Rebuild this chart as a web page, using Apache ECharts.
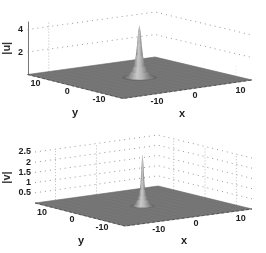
<!DOCTYPE html>
<html><head><meta charset="utf-8">
<style>html,body{margin:0;padding:0;background:#fff}#main{width:266px;height:253px;filter:blur(0.45px)}</style>
<script src="https://cdn.jsdelivr.net/npm/echarts@6/dist/echarts.min.js"></script>
</head><body><div id="main"></div>
<script>
// values
const planeTicks = [-10, 0, 10];
const uTicks = [2, 4];
const vTicks = [0.5, 1, 1.5, 2, 2.5];
const uProfileHeight = [0, 0.2, 0.5, 1, 2, 3, 4, 4.6];
const uProfileRadius = [2.2, 2.0, 1.5, 1.05, 0.65, 0.42, 0.24, 0.05];
const vProfileHeight = [0, 0.1, 0.3, 0.5, 0.8, 1.2, 1.8, 2.5];
const vProfileRadius = [1.7, 1.4, 0.95, 0.7, 0.5, 0.36, 0.24, 0.05];

// layout
const EXT = 15;
const panels = [
  {name:'|u|', ticks:uTicks, zh:uProfileHeight, zr:uProfileRadius, zMax:4.67, zTop:22, axisLine:true, nameGap:16,
   front:[123,98.5], right:[252,80], left:[27.5,74.5], back:[155,57], skirt:3.3,
   vx:[[-10,4.5,'#bdbdbd']], vy:[[-10,1,'#e2e2e2'],[0,0.6,'#eeeeee']],
   yLab:[-8,5.5], xLab:[[12.5,6.5],[7.5,6],[10,7]], yT:[75,113], xT:[182,114]},
  {name:'|v|', ticks:vTicks, zh:vProfileHeight, zr:vProfileRadius, zMax:2.5, zTop:152, axisLine:false, nameGap:24,
   front:[125,226], right:[252,209], left:[35,203], back:[158,186], skirt:2.4,
   vx:[[-10,2.5,'#bdbdbd'],[0,2.5,'#bdbdbd']], vy:[[10,2.5,'#bdbdbd'],[0,2.5,'#bdbdbd'],[-10,2.5,'#bdbdbd']],
   yLab:[-8,5.5], xLab:[[12.5,6.5],[7.5,6],[10,7]], yT:[81,241], xT:[184,241]}
];
const textFont = 'bold 9px "Liberation Sans", Arial, sans-serif';

function makeItem(p){
  const zScale = (p.left[1]-p.zTop)/p.zMax;
  return function(params, api){
    const P = (x,y,z)=>{
      const u=(x+EXT)/(2*EXT), v=(y+EXT)/(2*EXT);
      const sx=(1-u)*(1-v)*p.front[0]+u*(1-v)*p.right[0]+(1-u)*v*p.left[0]+u*v*p.back[0];
      const sy=(1-u)*(1-v)*p.front[1]+u*(1-v)*p.right[1]+(1-u)*v*p.left[1]+u*v*p.back[1];
      return api.coord([sx, sy-(z||0)*zScale]);
    };
    const kids=[];
    const line=(pts,color,dash,w)=>kids.push({type:'polyline',silent:true,shape:{points:pts},
      style:{stroke:color,lineWidth:w||1,fill:null,lineDash:dash||null}});
    const dots=[1,4];
    // walls: horizontal dotted lines
    p.ticks.forEach(t=>{
      line([P(-EXT,EXT,t),P(EXT,EXT,t),P(EXT,-EXT,t)],'#999999',dots);
    });
    p.vx.forEach(a=>line([P(a[0],EXT,0),P(a[0],EXT,a[1])],a[2],[1,2]));
    p.vy.forEach(a=>line([P(EXT,a[0],0),P(EXT,a[0],a[1])],a[2],[1,2]));
    // floor
    kids.push({type:'polygon',shape:{points:[P(-EXT,-EXT),P(EXT,-EXT),P(EXT,EXT),P(-EXT,EXT)]},
      style:{fill:'#757575',stroke:'#666',lineWidth:0.6}});
    for(let g=-EXT;g<=EXT;g+=2){
      line([P(g,-EXT),P(g,EXT)],'rgba(0,0,0,0.025)');
      line([P(-EXT,g),P(EXT,g)],'rgba(255,255,255,0.02)');
    }
    line([P(-EXT,EXT),P(-EXT,-EXT),P(EXT,-EXT)],'#4a4a4a',[3,2],0.8);
    // peak
    const ring=(r,z)=>{const a=[];for(let i=0;i<28;i++){const t=i/28*2*Math.PI;a.push(P(r*Math.cos(t),r*Math.sin(t),z));}return a;};
    kids.push({type:'polygon',shape:{points:ring(p.skirt,0)},style:{fill:'#5c5c5c',opacity:0.5}});
    kids.push({type:'polygon',shape:{points:ring(p.skirt*0.8,0)},style:{fill:'#808080'}});
    const grad={type:'linear',x:0,y:0,x2:1,y2:0,colorStops:[
      {offset:0,color:'#7f7f7f'},{offset:0.38,color:'#c8c8c8'},{offset:0.62,color:'#b4b4b4'},{offset:1,color:'#777777'}]};
    for(let i=0;i<p.zh.length-1;i++){
      const lo=ring(p.zr[i],p.zh[i]), hi=ring(p.zr[i+1],p.zh[i+1]);
      const xs=a=>a.map(q=>q[0]);
      const idx=(a,f)=>a.findIndex(q=>q[0]===f(...xs(a)));
      const trap=[lo[idx(lo,Math.min)],hi[idx(hi,Math.min)],hi[idx(hi,Math.max)],lo[idx(lo,Math.max)]];
      kids.push({type:'polygon',shape:{points:lo},style:{fill:grad}});
      kids.push({type:'polygon',shape:{points:trap},style:{fill:grad}});
    }
    // tick labels and titles
    const text=(s,q,font)=>kids.push({type:'text',style:{text:s,x:q[0],y:q[1],font:font||textFont,fill:'#1c1c1c',align:'center',verticalAlign:'middle'}});
    planeTicks.forEach((t,k)=>{
      const a=P(-EXT,t,0), b=P(t,-EXT,0);
      text(String(t),[a[0]+p.yLab[0],a[1]+p.yLab[1]]);
      text(String(t),[b[0]+p.xLab[k][0],b[1]+p.xLab[k][1]]);
    });
    const tf='bold 11px "Liberation Sans", Arial, sans-serif';
    text('y',api.coord(p.yT),tf); text('x',api.coord(p.xT),tf);
    return {type:'group',children:kids};
  };
}

const grid=[{left:0,top:0,width:266,height:253}];
const xAxis=[{type:'value',gridIndex:0,min:0,max:266,show:false}];
const yAxis=[{type:'value',gridIndex:0,min:0,max:253,inverse:true,show:false}];
const series=[];
panels.forEach((p,i)=>{
  const g=i+1;
  grid.push({left:p.left[0],top:p.zTop,width:1,height:p.left[1]-p.zTop});
  xAxis.push({type:'value',gridIndex:g,min:0,max:1,show:false});
  yAxis.push({type:'value',gridIndex:g,min:0,max:p.zMax,interval:i===0?2:0.5,
    name:p.name,nameLocation:'middle',nameRotate:90,nameGap:p.nameGap,nameMoveOverlap:false,
    nameTextStyle:{fontFamily:'Liberation Sans',fontWeight:'bold',fontSize:11,color:'#333'},
    axisLine:{show:p.axisLine,lineStyle:{color:'#777',width:1}},axisTick:{show:false},splitLine:{show:false},
    axisLabel:{margin:5,fontFamily:'Liberation Sans',fontWeight:'bold',fontSize:9,color:'#1c1c1c',
      formatter:v=>p.ticks.includes(v)?String(v):''}});
  series.push({type:'custom',xAxisIndex:0,yAxisIndex:0,coordinateSystem:'cartesian2d',clip:false,silent:true,
    renderItem:makeItem(p),data:[[0,0]],animation:false});
});
const chart=echarts.init(document.getElementById('main'),null,{renderer:'canvas'});
chart.setOption({animation:false,backgroundColor:'#fff',grid,xAxis,yAxis,series});
</script></body></html>
